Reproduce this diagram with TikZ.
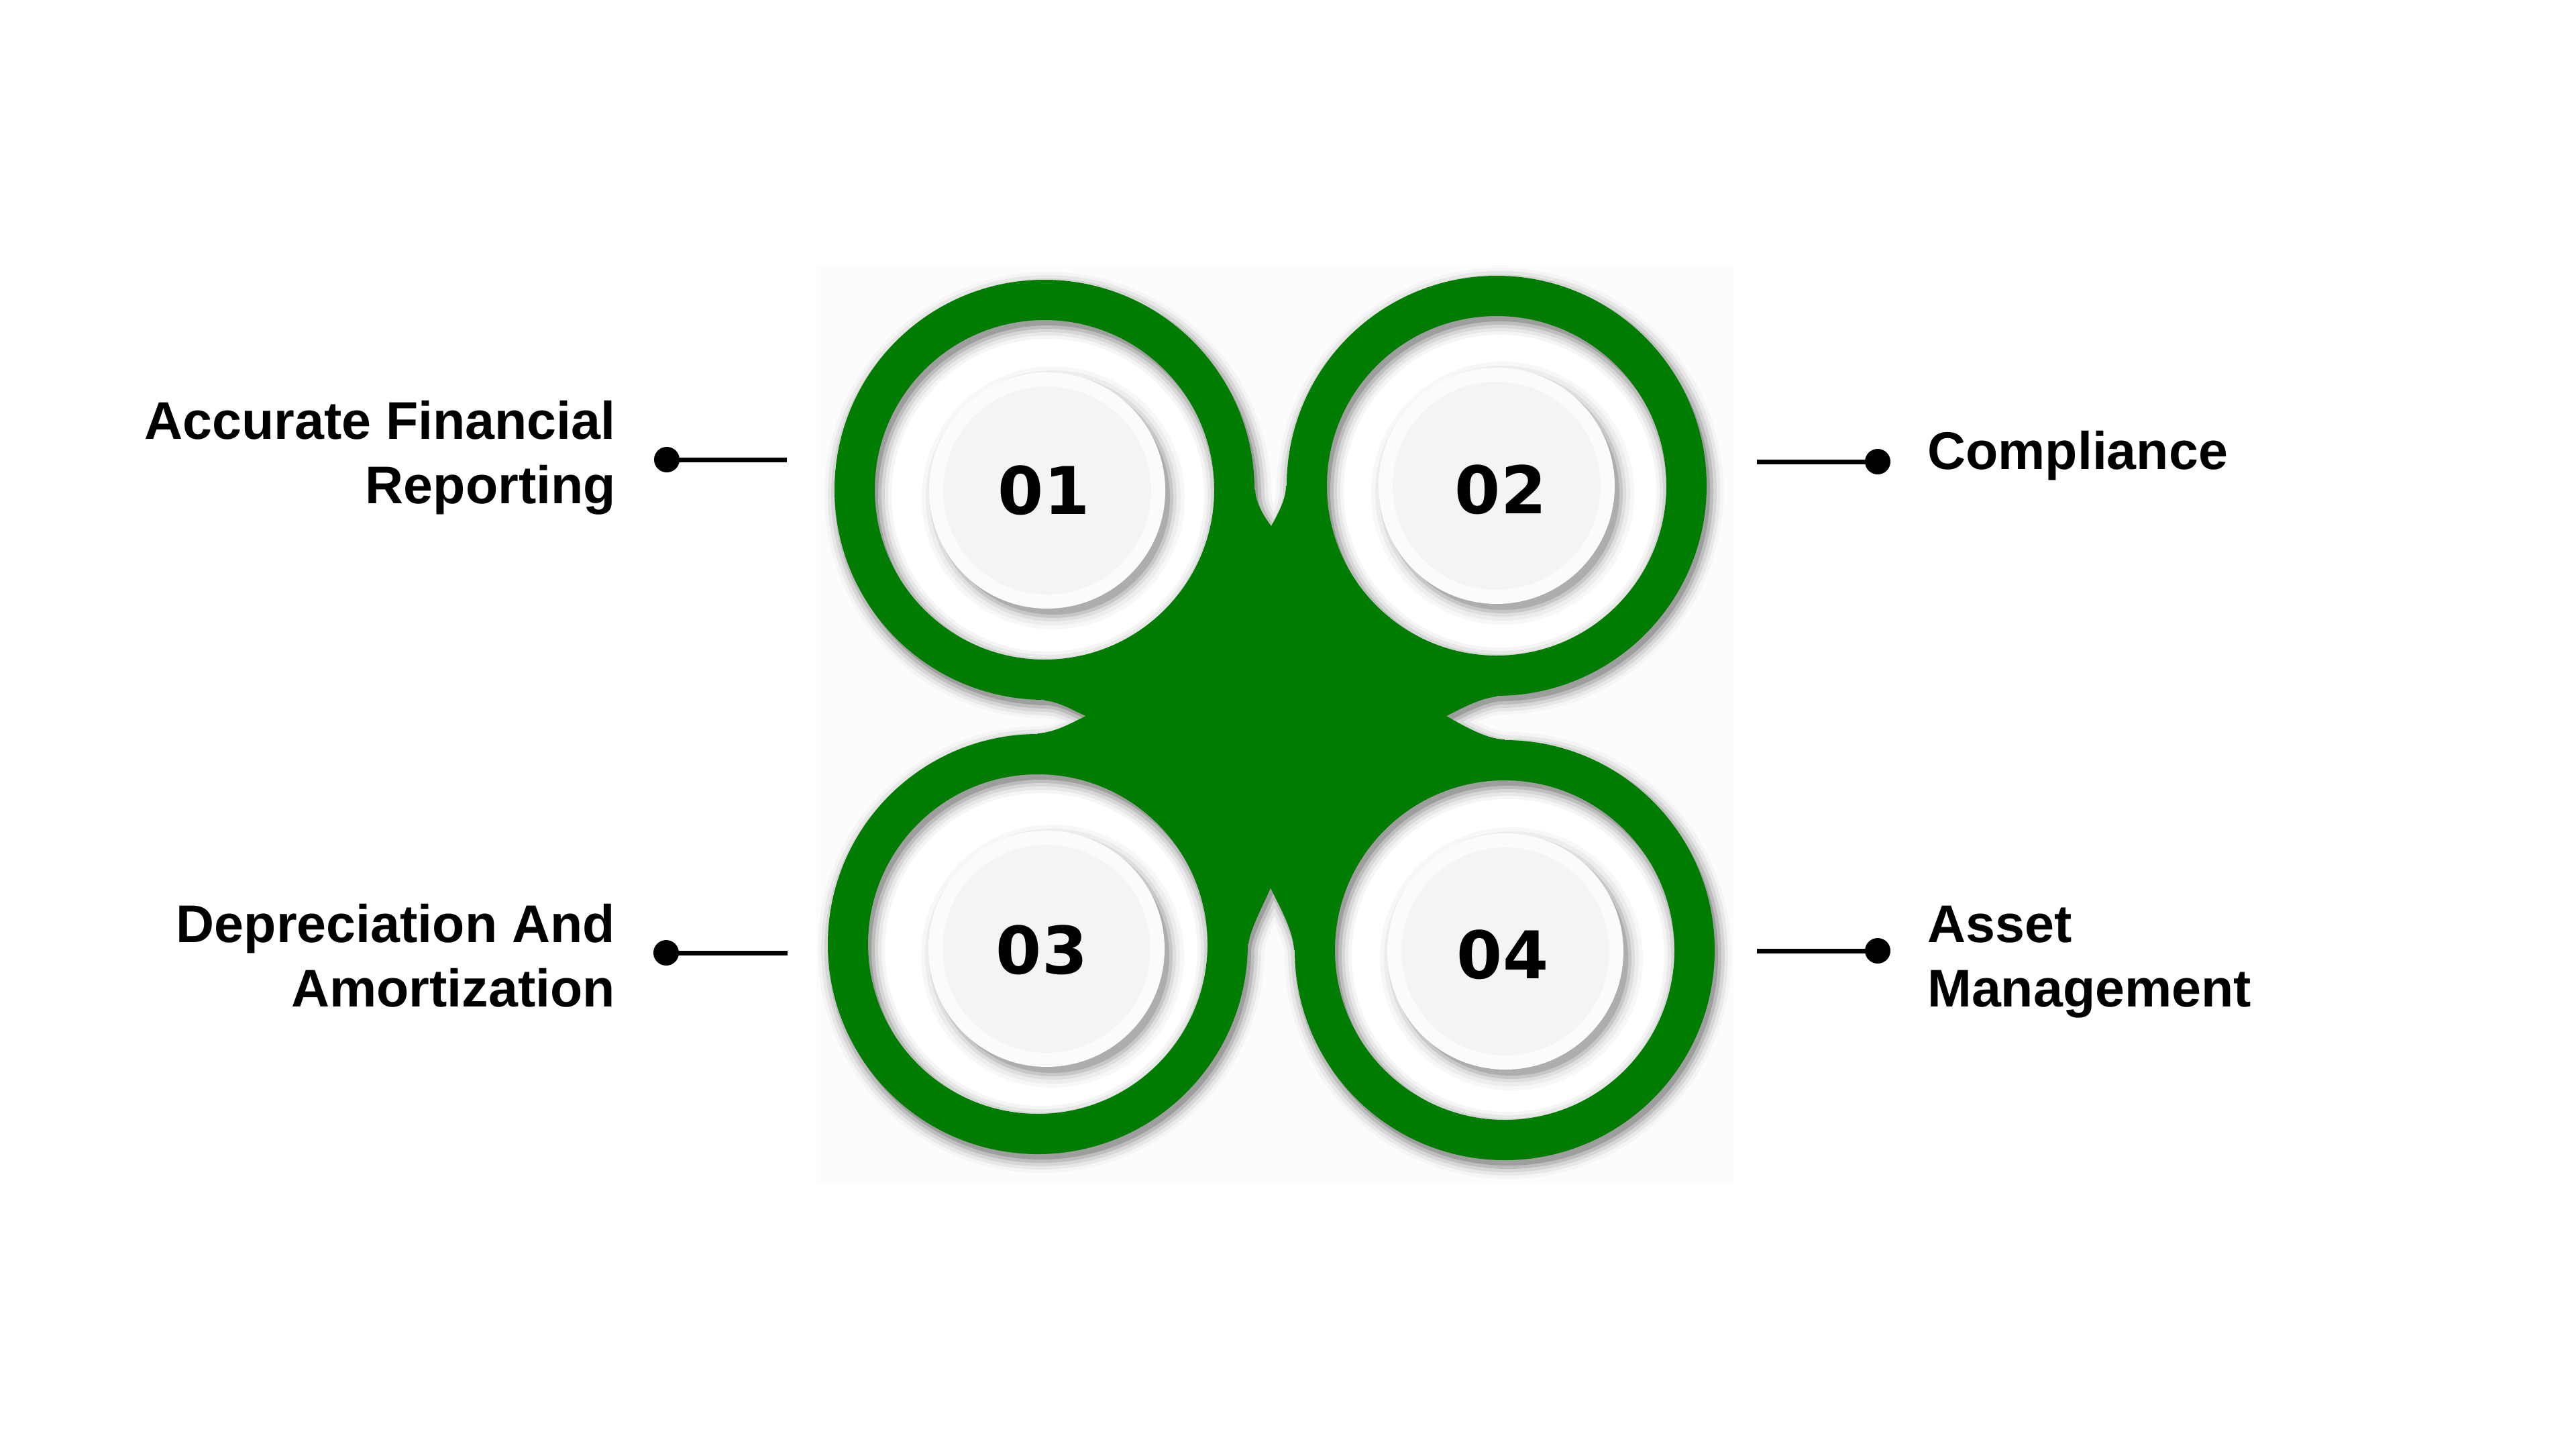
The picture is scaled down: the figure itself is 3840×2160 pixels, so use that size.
\documentclass[tikz,border=0pt]{standalone}
\usepackage{fontspec}
\newfontfamily\labelfont{Liberation Sans}
\newfontfamily\numfont{DejaVu Sans}
\definecolor{leafgreen}{RGB}{0,124,0}
\definecolor{bgsq}{RGB}{252,252,252}
\definecolor{rimc}{RGB}{251,251,251}
\definecolor{facec}{RGB}{244,244,244}
\tikzset{
  central/.style={insert path={(1557,1043) arc[start angle=90,end angle=0,radius=313]
    .. controls (1871,752) and (1885,772) .. (1895,786)
    .. controls (1905,768) and (1918,745) .. (1918,724)
    arc[start angle=180,end angle=90,radius=313]
    .. controls (2205,1040) and (2178,1055) .. (2154,1067)
    .. controls (2185,1085) and (2218,1103) .. (2243,1103)
    arc[start angle=270,end angle=180,radius=313]
    .. controls (1929,1385) and (1905,1345) .. (1894,1321)
    .. controls (1884,1345) and (1862,1385) .. (1860,1407)
    arc[start angle=0,end angle=-90,radius=313]
    .. controls (1575,1092) and (1598,1078) .. (1621,1067)
    .. controls (1600,1058) and (1580,1045) .. (1557,1043) -- cycle}},
  outerdiscs/.style={insert path={(1557,730) circle[radius=313] (2231,724) circle[radius=313]
    (1547,1407) circle[radius=313] (2243,1416) circle[radius=313]}},
  holes/.style={insert path={(1557,730) circle[radius=#1] (2231,724) circle[radius=#1]
    (1547,1407) circle[radius=#1] (2243,1416) circle[radius=#1]}},
  numdiscs/.style={insert path={(1561,731) circle[radius=#1] (2231,724) circle[radius=#1]
    (1560,1414) circle[radius=#1] (2244,1418) circle[radius=#1]}},
  lbl/.style={inner sep=0pt, text=black, font=\labelfont\bfseries\fontsize{79}{96}\selectfont},
  num/.style={inner sep=0pt, text=black, font=\numfont\bfseries\fontsize{98}{110}\selectfont},
  dotn/.style={circle, fill=black, inner sep=0pt, minimum size=38pt},
  conn/.style={line width=7pt, draw=black},
  ring/.style={leafgreen, even odd rule}
}
\begin{document}
\begin{tikzpicture}[x=1pt,y=-1pt]
\useasboundingbox (0,0) rectangle (3840,2160);
\fill[white] (0,0) rectangle (3840,2160);
\fill[bgsq] (1217,395) rectangle (2584,1763);

% soft shadow of the green shape
\begin{scope}[shift={(5,8)}]
  \foreach \w/\c in {40/4,30/9,20/16,10/26} {
    \filldraw[black!\c, line width=\w pt, central];
    \filldraw[black!\c, line width=\w pt, outerdiscs];
  }
  \fill[black!38, central];
  \fill[black!38, outerdiscs];
  \foreach \r/\c in {253/26,248/16,243/9,238/4} {
    \fill[black!\c, holes=\r];
  }
  \fill[white, holes=233];
\end{scope}

% green shape
\filldraw[leafgreen, line width=2pt, central];
\fill[ring] (1557,730) circle[radius=313] (1557,730) circle[radius=253];
\fill[ring] (2231,724) circle[radius=313] (2231,724) circle[radius=253];
\fill[ring] (1547,1407) circle[radius=313] (1547,1407) circle[radius=253];
\fill[ring] (2243,1416) circle[radius=313] (2243,1416) circle[radius=253];

% number discs with drop shadows
\begin{scope}[shift={(9,11)}]
  \foreach \r/\c in {196/3,190/7,184/13,179/22,174/32} {
    \fill[black!\c, numdiscs=\r];
  }
\end{scope}
\fill[rimc, numdiscs=176];
\fill[facec, numdiscs=155];

\node[num] (n1) at (1556,731) {01};
\node[num] (n2) at (2237,730) {02};
\node[num] (n3) at (1553,1416) {03};
\node[num] (n4) at (2240,1423) {04};

% labels
\node[lbl, anchor=base east] (t1a) at (918,654) {Accurate Financial};
\node[lbl, anchor=base east] (t1b) at (918,750) {Reporting};
\node[lbl, anchor=base west] (t2) at (2873,699) {Compliance};
\node[lbl, anchor=base east] (t3a) at (917,1404) {Depreciation And};
\node[lbl, anchor=base east] (t3b) at (917,1500) {Amortization};
\node[lbl, anchor=base west] (t4a) at (2873,1404) {Asset};
\node[lbl, anchor=base west] (t4b) at (2873,1500) {Management};

% connectors
\node[dotn] (d1) at (994,685) {};
\coordinate (e1) at (1173,685);
\node[dotn] (d2) at (2799,688) {};
\coordinate (e2) at (2619,688);
\node[dotn] (d3) at (993,1420) {};
\coordinate (e3) at (1174,1420);
\node[dotn] (d4) at (2799,1417) {};
\coordinate (e4) at (2619,1417);
\draw[conn] (d1.center) -- (e1);
\draw[conn] (e2) -- (d2.center);
\draw[conn] (d3.center) -- (e3);
\draw[conn] (e4) -- (d4.center);
\end{tikzpicture}
\end{document}
